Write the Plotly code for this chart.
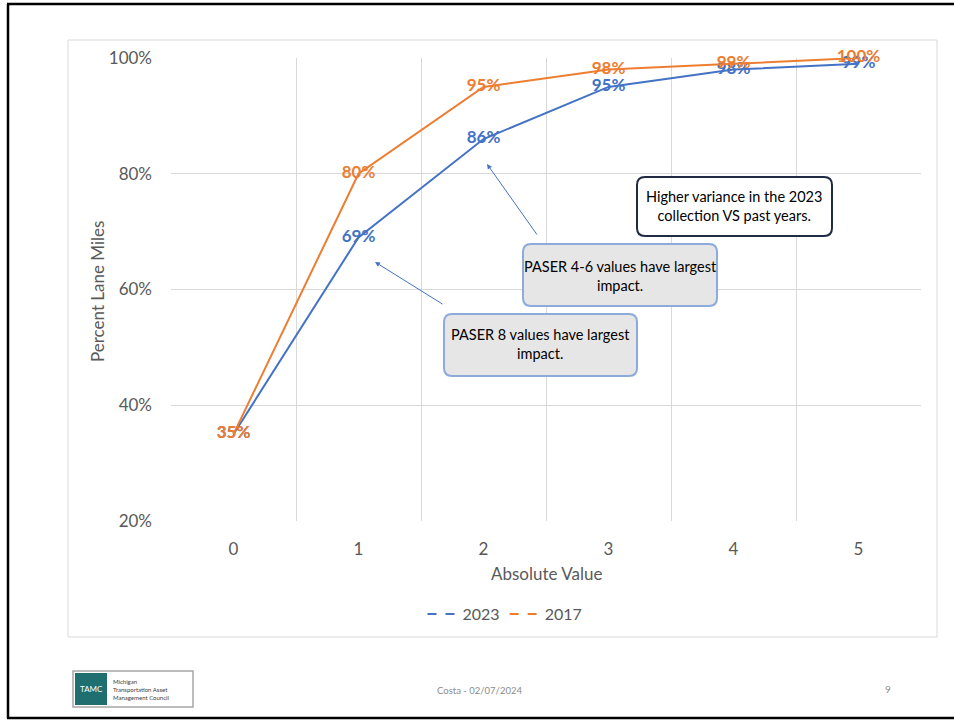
import plotly.graph_objects as go

# Cumulative share of lane miles by absolute rating difference
absolute_value = [0, 1, 2, 3, 4, 5]
pct_2023 = [0.35, 0.69, 0.86, 0.95, 0.98, 0.99]
pct_2017 = [0.35, 0.80, 0.95, 0.98, 0.99, 1.00]
y_ticks = [0.2, 0.4, 0.6, 0.8, 1.0]

BLUE = "#4472C4"
ORANGE = "#ED7D31"
GREY_TXT = "#595959"
GRID = "#D9D9D9"
FONT = "Lato, Open Sans, sans-serif"

W, H = 954, 721
L, R, T, B = 171, 921, 58, 521  # plot area in pixels


def px(x):
    return (x - L) / (R - L)


def py(y):
    return (B - y) / (B - T)


def rounded_box(x0, y0, x1, y1, r):
    """Rounded rectangle path in paper coordinates from pixel corners."""
    rx = r / (R - L)
    ry = r / (B - T)
    a, b, c, d = px(x0), py(y0), px(x1), py(y1)  # b top, d bottom
    return (
        f"M {a+rx},{b} L {c-rx},{b} Q {c},{b} {c},{b-ry} "
        f"L {c},{d+ry} Q {c},{d} {c-rx},{d} "
        f"L {a+rx},{d} Q {a},{d} {a},{d+ry} "
        f"L {a},{b-ry} Q {a},{b} {a+rx},{b} Z"
    )


fig = go.Figure()

fig.add_trace(go.Scatter(
    x=absolute_value, y=pct_2023, mode="lines+text",
    line=dict(color=BLUE, width=2),
    text=[f"{v:.0%}" for v in pct_2023], textposition="middle center",
    textfont=dict(color=BLUE, size=17, family=FONT, weight="bold"),
    showlegend=False, cliponaxis=False,
))
fig.add_trace(go.Scatter(
    x=absolute_value, y=pct_2017, mode="lines+text",
    line=dict(color=ORANGE, width=2),
    text=[f"{v:.0%}" for v in pct_2017], textposition="middle center",
    textfont=dict(color=ORANGE, size=17, family=FONT, weight="bold"),
    showlegend=False, cliponaxis=False,
))

# Legend entries
fig.add_trace(go.Scatter(x=[None], y=[None], mode="lines", name="2023",
                         line=dict(color=BLUE, width=2, dash="dash")))
fig.add_trace(go.Scatter(x=[None], y=[None], mode="lines", name="2017",
                         line=dict(color=ORANGE, width=2, dash="dash")))

shapes = []
# Slide frame
for x0, y0, x1, y1 in [(7, 4, 954, 4), (8, 4, 8, 718), (7, 718, 954, 718)]:
    shapes.append(dict(type="line", xref="paper", yref="paper",
                       x0=px(x0), y0=py(y0), x1=px(x1), y1=py(y1),
                       line=dict(color="black", width=2.5), layer="below"))
# Chart area border
shapes.append(dict(type="rect", xref="paper", yref="paper",
                   x0=px(68), y0=py(40), x1=px(937), y1=py(637),
                   line=dict(color=GRID, width=1), layer="below"))

# Callout boxes
shapes.append(dict(type="path", xref="paper", yref="paper",
                   path=rounded_box(637, 177, 832, 236, 8),
                   fillcolor="white", line=dict(color="#1F2A44", width=2),
                   layer="above"))
shapes.append(dict(type="path", xref="paper", yref="paper",
                   path=rounded_box(523, 244, 717, 306, 8),
                   fillcolor="#E7E6E6", line=dict(color="#8EAADB", width=2),
                   layer="above"))
shapes.append(dict(type="path", xref="paper", yref="paper",
                   path=rounded_box(444, 314, 637, 376, 8),
                   fillcolor="#E7E6E6", line=dict(color="#8EAADB", width=2),
                   layer="above"))

# Logo block
shapes.append(dict(type="rect", xref="paper", yref="paper",
                   x0=px(73), y0=py(671), x1=px(193), y1=py(707),
                   fillcolor="white", line=dict(color="#A6A6A6", width=1.5)))
shapes.append(dict(type="rect", xref="paper", yref="paper",
                   x0=px(75), y0=py(673), x1=px(107), y1=py(705),
                   fillcolor="#1F6F70", line=dict(width=0)))

annotations = []


def note(text, x, y, size=13, color="black", **kw):
    annotations.append(dict(text=text, x=px(x), y=py(y), xref="paper", yref="paper",
                            showarrow=False, font=dict(size=size, color=color, family=FONT),
                            xanchor=kw.pop("xanchor", "center"),
                            yanchor=kw.pop("yanchor", "middle"), **kw))


note("Higher variance in the 2023<br>collection VS past years.", 734, 206, size=14.5)
note("PASER 4-6 values have largest<br>impact.", 620, 276, size=14.5)
note("PASER 8 values have largest<br>impact.", 540, 344, size=14.5)

# Arrows pointing at the curves
for hx, hy, tx, ty in [(487, 164, 538, 236), (375, 262, 444, 305)]:
    annotations.append(dict(text="", x=px(hx), y=py(hy), xref="paper", yref="paper",
                            ax=tx - hx, ay=ty - hy, showarrow=True, arrowhead=2,
                            arrowsize=1, arrowwidth=1, arrowcolor=BLUE, standoff=0))

# Axis titles
note("Absolute Value", 546, 573, size=17, color=GREY_TXT)
note("Percent Lane Miles", 97, 292, size=17, color=GREY_TXT, textangle=-90)

# Footer
note("Costa - 02/07/2024", 479, 690, size=9.5, color="#8C8C8C")
note("9", 888, 689, size=10, color="#8C8C8C")
note("TAMC", 91, 689, size=8, color="white")
note("Michigan<br>Transportation Asset<br>Management Council", 111, 689,
     size=6, color="#404040", xanchor="left", align="left")

fig.update_layout(
    width=W, height=H,
    margin=dict(l=L, r=W - R, t=T, b=H - B),
    paper_bgcolor="white", plot_bgcolor="white",
    font=dict(family=FONT, color=GREY_TXT, size=16),
    shapes=shapes, annotations=annotations,
    legend=dict(orientation="h", x=px(505), y=py(614), xanchor="center", yanchor="middle",
                font=dict(size=16, color=GREY_TXT), itemwidth=30, bgcolor="rgba(0,0,0,0)"),
    xaxis=dict(range=[-0.5, 5.5], tickvals=absolute_value, showgrid=False,
               zeroline=False, showline=False, ticks="",
               ticklabelstandoff=16,
               tickfont=dict(size=17, color=GREY_TXT),
               minor=dict(tickvals=[-0.5, 0.5, 1.5, 2.5, 3.5, 4.5, 5.5],
                          showgrid=True, gridcolor=GRID, gridwidth=1, ticks="")),
    yaxis=dict(range=[0.2, 1.0], tickvals=y_ticks, tickformat=".0%",
               showgrid=True, gridcolor=GRID, gridwidth=1, zeroline=False,
               showline=False, ticks="", ticklabelstandoff=18,
               tickfont=dict(size=17, color=GREY_TXT)),
)

fig.write_html("out.html")
